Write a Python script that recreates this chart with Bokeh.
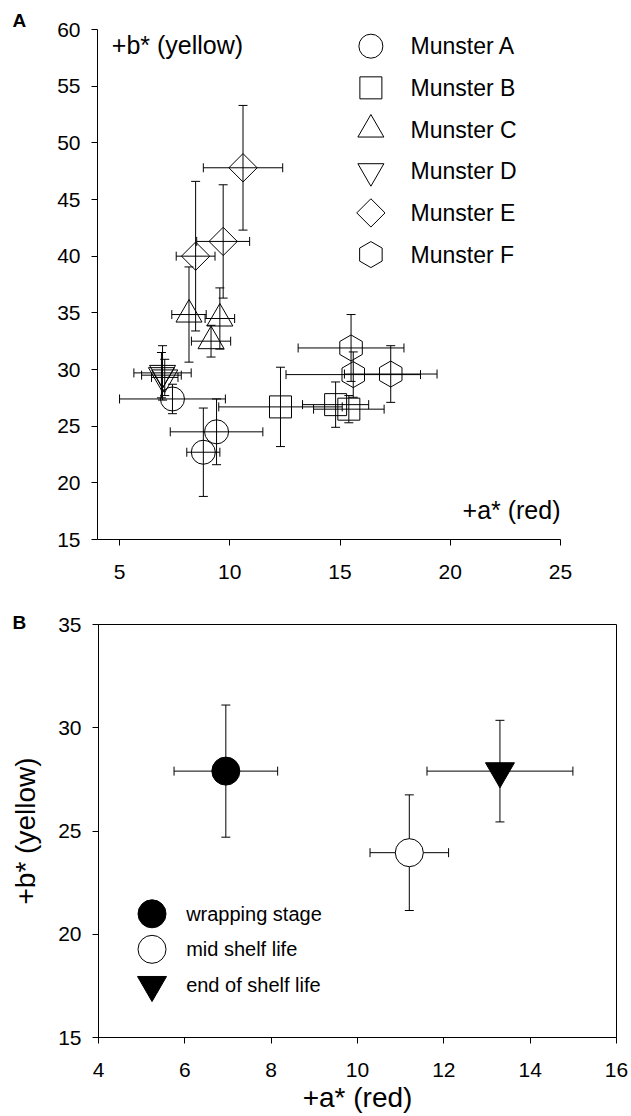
import numpy as np
from bokeh.plotting import figure
from bokeh.models import ColumnDataSource, Whisker, TeeHead, Label, Range1d, FixedTicker
from bokeh.layouts import column
from bokeh.embed import file_html
from bokeh.resources import INLINE
from bokeh.core.properties import value

FONT = "Liberation Sans"

# ---------------- Panel A data (a*, b* of six Munster cheeses) ----------------
names_a = ["Munster A", "Munster B", "Munster C", "Munster D", "Munster E", "Munster F"]

mA_x = [7.4, 9.4, 8.8]
mA_y = [27.4, 24.5, 22.7]
mA_xerr = [2.4, 2.1, 0.75]
mA_yerr = [1.3, 2.9, 3.9]

mB_x = [12.3, 14.8, 15.4]
mB_y = [26.7, 26.9, 26.5]
mB_xerr = [2.8, 1.5, 1.6]
mB_yerr = [3.5, 2.0, 1.2]

mC_x = [8.15, 9.55, 9.15]
mC_y = [34.85, 34.5, 32.5]
mC_xerr = [0.78, 0.67, 0.89]
mC_yerr = [4.2, 2.7, 1.4]

mD_x = [6.95, 6.9, 7.05]
mD_y = [29.7, 29.5, 29.3]
mD_xerr = [1.3, 0.9, 0.6]
mD_yerr = [2.4, 2.0, 1.6]

mE_x = [10.6, 9.7, 8.45]
mE_y = [47.8, 41.3, 40.0]
mE_xerr = [1.8, 1.2, 0.88]
mE_yerr = [5.5, 5.0, 6.6]

mF_x = [15.5, 15.6, 17.3]
mF_y = [31.9, 29.55, 29.6]
mF_xerr = [2.4, 3.05, 2.1]
mF_yerr = [2.95, 2.0, 2.5]

xticks_a = [5, 10, 15, 20, 25]
yticks_a = [15, 20, 25, 30, 35, 40, 45, 50, 55, 60]

# ---------------- Panel B data (ripening stages) ----------------
stages_b = ["wrapping stage", "mid shelf life", "end of shelf life"]
stage_x = [6.95, 11.2, 13.3]
stage_y = [27.9, 23.95, 27.9]
stage_xerr = [1.2, 0.91, 1.69]
stage_yerr = [3.2, 2.8, 2.46]

xticks_b = [4, 6, 8, 10, 12, 14, 16]
yticks_b = [15, 20, 25, 30, 35]

# ---------------- styles ----------------
markers_a = ["circle", "square", "triangle", "inverted_triangle", "square", "hex"]
sizes_a = [24, 22, 26, 26, 20, 26]
angles_a = [0, 0, 0, 0, np.pi / 4, np.pi / 2]

markers_b = ["circle", "circle", "inverted_triangle"]
fills_b = ["black", "white", "black"]
sizes_b = [28, 28, 29]


def add_errors(p, x, y, xerr, yerr, cap=9):
    src = ColumnDataSource(dict(
        x=x, y=y,
        xlo=[a - e for a, e in zip(x, xerr)], xhi=[a + e for a, e in zip(x, xerr)],
        ylo=[a - e for a, e in zip(y, yerr)], yhi=[a + e for a, e in zip(y, yerr)],
    ))
    for base, lo, hi, dim in (("y", "xlo", "xhi", "width"), ("x", "ylo", "yhi", "height")):
        w = Whisker(source=src, base=base, lower=lo, upper=hi, dimension=dim,
                    line_color="black", line_width=1, level="underlay",
                    lower_head=TeeHead(size=cap, line_color="black", line_width=1),
                    upper_head=TeeHead(size=cap, line_color="black", line_width=1))
        p.add_layout(w)


def style_axes(p, xticks, yticks):
    p.grid.visible = False
    p.xaxis.ticker = FixedTicker(ticks=xticks)
    p.yaxis.ticker = FixedTicker(ticks=yticks)
    p.axis.major_tick_in = 0
    p.axis.major_tick_out = 6
    p.axis.minor_tick_line_color = None
    p.axis.axis_line_color = "black"
    p.axis.major_tick_line_color = "black"
    p.axis.major_label_text_font = FONT
    p.axis.major_label_text_font_size = "21px"
    p.axis.major_label_text_color = "black"
    p.xaxis.major_label_standoff = 19
    p.yaxis.major_label_standoff = 11
    p.background_fill_color = "white"
    p.border_fill_color = "white"


def panel_letter(p, letter, offset, standoff):
    p.title.text = letter
    p.title.text_font = FONT
    p.title.text_font_style = "bold"
    p.title.text_font_size = "19px"
    p.title.text_color = "black"
    p.title.align = "left"
    p.title.offset = offset
    p.title.standoff = standoff


# ================= Panel A =================
pA = figure(width=631, height=600, x_range=Range1d(4, 25), y_range=Range1d(15, 60),
            output_backend="svg", toolbar_location=None, frame_align=False,
            min_border_left=97, min_border_right=71, min_border_top=29, min_border_bottom=61)
pA.outline_line_color = None
style_axes(pA, xticks_a, yticks_a)
panel_letter(pA, "A", -85, -2)

series_a = [
    (mA_x, mA_y, mA_xerr, mA_yerr),
    (mB_x, mB_y, mB_xerr, mB_yerr),
    (mC_x, mC_y, mC_xerr, mC_yerr),
    (mD_x, mD_y, mD_xerr, mD_yerr),
    (mE_x, mE_y, mE_xerr, mE_yerr),
    (mF_x, mF_y, mF_xerr, mF_yerr),
]
for (sx, sy, sxe, sye), mk, sz, ang in zip(series_a, markers_a, sizes_a, angles_a):
    add_errors(pA, sx, sy, sxe, sye)
    pA.scatter(sx, sy, marker=mk, size=sz, angle=ang, fill_color=None,
               line_color="black", line_width=1)

# legend for panel A (drawn as markers + text)
leg_x_a, leg_tx_a, leg_y0_a, leg_dy_a = 16.4, 18.2, 58.53, 3.678
leg_ys_a = [leg_y0_a - i * leg_dy_a for i in range(len(names_a))]
for i, (mk, sz, ang) in enumerate(zip(markers_a, sizes_a, angles_a)):
    pA.scatter([leg_x_a], [leg_ys_a[i]], marker=mk, size=sz, angle=ang,
               fill_color=None, line_color="black", line_width=1)
pA.text(x=[leg_tx_a] * len(names_a), y=leg_ys_a, text=names_a,
        text_font=value(FONT), text_font_size=value("23px"), text_color="black",
        text_align="left", text_baseline="middle")

pA.add_layout(Label(x=4.65, y=58.61, text="+b* (yellow)", text_font=FONT,
                    text_font_size="25px", text_color="black",
                    text_align="left", text_baseline="middle"))
pA.add_layout(Label(x=25.0, y=17.59, text="+a* (red)", text_font=FONT,
                    text_font_size="25px", text_color="black",
                    text_align="right", text_baseline="middle"))

# ================= Panel B =================
pB = figure(width=631, height=516, x_range=Range1d(4, 16), y_range=Range1d(15, 35),
            output_backend="svg", toolbar_location=None, frame_align=False,
            min_border_left=98, min_border_right=15, min_border_top=24, min_border_bottom=79)
pB.outline_line_color = "black"
pB.outline_line_width = 1
style_axes(pB, xticks_b, yticks_b)
panel_letter(pB, "B", -86, -16)

pB.xaxis.axis_label = "+a* (red)"
pB.yaxis.axis_label = "+b* (yellow)"
pB.axis.axis_label_text_font = FONT
pB.axis.axis_label_text_font_size = "28px"
pB.axis.axis_label_text_font_style = "normal"
pB.axis.axis_label_text_color = "black"
pB.xaxis.axis_label_standoff = 2
pB.yaxis.axis_label_standoff = 14

add_errors(pB, stage_x, stage_y, stage_xerr, stage_yerr)
for i in range(len(stages_b)):
    pB.scatter([stage_x[i]], [stage_y[i]], marker=markers_b[i], size=sizes_b[i],
               fill_color=fills_b[i], line_color="black", line_width=1)

leg_x_b, leg_tx_b, leg_y0_b, leg_dy_b = 5.24, 6.03, 20.99, 1.72
leg_ys_b = [leg_y0_b - i * leg_dy_b for i in range(len(stages_b))]
for i in range(len(stages_b)):
    pB.scatter([leg_x_b], [leg_ys_b[i]], marker=markers_b[i], size=sizes_b[i],
               fill_color=fills_b[i], line_color="black", line_width=1)
pB.text(x=[leg_tx_b] * len(stages_b), y=leg_ys_b, text=stages_b,
        text_font=value(FONT), text_font_size=value("20px"), text_color="black",
        text_align="left", text_baseline="middle")

layout = column(pA, pB)
open("out.html", "w").write(file_html(layout, INLINE))
